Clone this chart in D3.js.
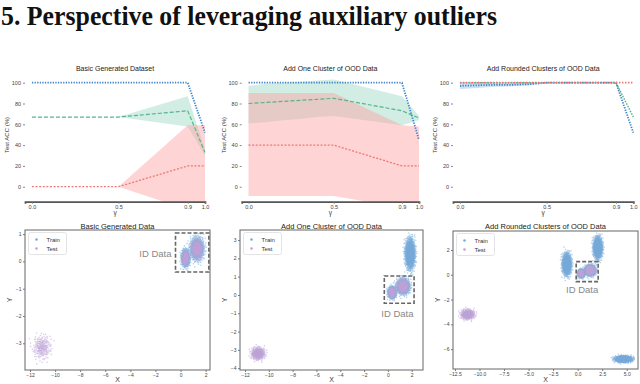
<!DOCTYPE html>
<html>
<head>
    <script src="https://d3js.org/d3.v7.min.js"></script>
    <style>
        body { margin: 0; background: #fff; }
        svg { display: block; font-family: "Liberation Sans", Arial, sans-serif; }
    </style>
</head>
<body>
    <div id="chart"></div>
    <script>
        // ---- top row: accuracy vs gamma ----
        const gammas = [0, 0.1, 0.2, 0.3, 0.4, 0.5, 0.9, 1.0];
        const gammaTicks = [0, 0.5, 0.9, 1.0];
        const accTicks = [0, 20, 40, 60, 80, 100];
        const topTitles = ["Basic Generated Dataset", "Add One Cluster of OOD Data", "Add Rounded Clusters of OOD Data"];

        const basicBlue = [100, 100, 100, 100, 100, 100, 100, 52];
        const basicGreen = [67, 67, 67, 67, 67, 67, 73, 33];
        const basicGreenHi = [67, 67, 67, 67, 67, 67, 87, 36];
        const basicGreenLo = [67, 67, 67, 67, 67, 67, 58, 30];
        const basicRed = [0, 0, 0, 0, 0, 0, 20, 20];
        const basicRedHi = [0, 0, 0, 0, 0, 0, 59, 59];
        const basicRedLo = [0, 0, 0, 0, 0, 0, -22, -22];

        const oneBlue = [100, 100, 100, 100, 100, 100, 100, 45];
        const oneGreen = [80, 81, 82, 83, 84, 85, 73, 66];
        const oneGreenHi = [97, 99, 100, 101, 102, 103, 87, 68];
        const oneGreenLo = [61, 62, 64, 65, 67, 68, 59, 64];
        const oneRed = [40, 40, 40, 40, 40, 40, 20, 20];
        const oneRedHi = [90, 90, 90, 90, 90, 90, 59, 58];
        const oneRedLo = [-9, -9, -9, -9, -9, -9, -20, -20];

        const roundBlue = [97, 97.5, 98, 98, 98.5, 100, 100, 52];
        const roundBlueHi = [100.5, 100.5, 100.5, 100.5, 100.5, 100, 100, 52];
        const roundBlueLo = [94, 95, 96, 96.5, 97.5, 100, 100, 52];
        const roundGreen = [100, 100, 100, 100, 100, 100, 100, 67];
        const roundRed = [100, 100, 100, 100, 100, 100, 100, 100];

        // ---- bottom row: 2D data clusters ----
        const bottomTitles = ["Basic Generated Data", "Add One Cluster of OOD Data", "Add Rounded Clusters of OOD Data"];
        const legendLabels = ["Train", "Test"];

        const basicClusters = [
            { set: "test", cx: -11.05, cy: -3.15, sx: 0.36, sy: 0.22, n: 220 },
            { set: "train", cx: 0.4, cy: 0.12, sx: 0.16, sy: 0.15, n: 600 },
            { set: "train", cx: 1.32, cy: 0.46, sx: 0.26, sy: 0.2, n: 900 },
            { set: "test", cx: 0.4, cy: 0.12, sx: 0.12, sy: 0.11, n: 350 },
            { set: "test", cx: 1.32, cy: 0.46, sx: 0.2, sy: 0.15, n: 500 }
        ];
        const oneClusters = [
            { set: "train", cx: 1.87, cy: 2.25, sx: 0.19, sy: 0.38, n: 1500 },
            { set: "train", cx: 0.35, cy: 0.13, sx: 0.16, sy: 0.15, n: 600 },
            { set: "train", cx: 1.28, cy: 0.47, sx: 0.26, sy: 0.2, n: 900 },
            { set: "test", cx: -10.9, cy: -3.2, sx: 0.27, sy: 0.16, n: 450 },
            { set: "test", cx: 0.35, cy: 0.13, sx: 0.12, sy: 0.11, n: 350 },
            { set: "test", cx: 1.28, cy: 0.47, sx: 0.2, sy: 0.15, n: 500 }
        ];
        const roundClusters = [
            { set: "train", cx: -1.1, cy: 0.85, sx: 0.21, sy: 0.4, n: 1300 },
            { set: "train", cx: 2.06, cy: 2.18, sx: 0.21, sy: 0.4, n: 1300 },
            { set: "train", cx: 4.68, cy: -6.8, sx: 0.4, sy: 0.12, n: 1100 },
            { set: "train", cx: 0.36, cy: 0.1, sx: 0.16, sy: 0.15, n: 600 },
            { set: "train", cx: 1.28, cy: 0.35, sx: 0.26, sy: 0.2, n: 900 },
            { set: "test", cx: -11.2, cy: -3.2, sx: 0.33, sy: 0.19, n: 450 },
            { set: "test", cx: 0.36, cy: 0.1, sx: 0.12, sy: 0.11, n: 350 },
            { set: "test", cx: 1.28, cy: 0.35, sx: 0.2, sy: 0.15, n: 500 }
        ];

        const basicXTicks = [-12, -10, -8, -6, -4, -2, 0, 2];
        const basicYTicks = [1, 0, -1, -2, -3];
        const oneXTicks = [-12, -10, -8, -6, -4, -2, 0, 2];
        const oneYTicks = [3, 2, 1, 0, -1, -2, -3, -4];
        const roundXTicks = [-12.5, -10, -7.5, -5, -2.5, 0, 2.5, 5];
        const roundYTicks = [2, 0, -2, -4, -6];

        const width = 640, height = 384;
        const svg = d3.select("#chart").append("svg")
            .attr("width", width)
            .attr("height", height);

        svg.append("text")
            .attr("x", 1)
            .attr("y", 25)
            .attr("textLength", 496)
            .attr("lengthAdjust", "spacingAndGlyphs")
            .style("font-family", "'Liberation Serif', 'Times New Roman', serif")
            .style("font-weight", "bold")
            .style("font-size", "27px")
            .attr("fill", "#111")
            .text("5. Perspective of leveraging auxiliary outliers");

        const colors = {
            blue: "#3d84c6", green: "#55b58c", red: "#ee7676",
            blueFill: "#9cc2e6", greenFill: "#66c2a5", redFill: "#ff9f9f",
            train: "#78acda", test: "#bea4d8"
        };

        // ---------- top row ----------
        const topPanels = [
            { x0: 25, x1: 205, title: topTitles[0],
              bands: [[basicGreenLo, basicGreenHi, "greenFill", 0.3], [basicRedLo, basicRedHi, "redFill", 0.45]],
              lines: [[basicRed, "red", "2,1.6", 1.3], [basicGreen, "green", "4,2", 1.2], [basicBlue, "blue", "1.3,1.3", 1.8]] },
            { x0: 241.7, x1: 419, title: topTitles[1],
              bands: [[oneGreenLo, oneGreenHi, "greenFill", 0.3], [oneRedLo, oneRedHi, "redFill", 0.45]],
              lines: [[oneRed, "red", "2,1.6", 1.3], [oneGreen, "green", "4,2", 1.2], [oneBlue, "blue", "1.3,1.3", 1.8]] },
            { x0: 453, x1: 633.3, title: topTitles[2],
              bands: [[roundBlueLo, roundBlueHi, "blueFill", 0.5]],
              lines: [[roundGreen, "green", "1.5,1.3", 1.5], [roundBlue, "blue", "1.3,1.3", 1.8], [roundRed, "red", "1.5,1.5", 1.8]] }
        ];

        const yTop = d3.scaleLinear().domain([-14.4, 105]).range([201.7, 77.5]);

        topPanels.forEach((p, pi) => {
            const x = d3.scaleLinear().domain([-0.04, 1.0]).range([p.x0, p.x1]);
            const g = svg.append("g");
            const clipId = "clipTop" + pi;
            g.append("clipPath").attr("id", clipId)
                .append("rect")
                .attr("x", p.x0).attr("y", yTop.range()[1] - 3)
                .attr("width", p.x1 - p.x0 + 2)
                .attr("height", yTop.range()[0] - yTop.range()[1] + 3);

            const plot = g.append("g").attr("clip-path", `url(#${clipId})`);

            p.bands.forEach(([lo, hi, c, op]) => {
                const area = d3.area()
                    .x((d, i) => x(gammas[i]))
                    .y0((d, i) => yTop(lo[i]))
                    .y1((d, i) => yTop(hi[i]));
                plot.append("path")
                    .datum(lo)
                    .attr("d", area)
                    .attr("fill", colors[c])
                    .attr("fill-opacity", op);
            });

            p.lines.forEach(([vals, c, dash, w]) => {
                const line = d3.line()
                    .x((d, i) => x(gammas[i]))
                    .y(d => yTop(d));
                plot.append("path")
                    .datum(vals)
                    .attr("d", line)
                    .attr("fill", "none")
                    .attr("stroke", colors[c])
                    .attr("stroke-width", w)
                    .attr("stroke-dasharray", dash);
            });

            // axes
            const xAxis = g.append("g")
                .attr("transform", `translate(0,${yTop.range()[0]})`)
                .call(d3.axisBottom(x).tickValues(gammaTicks).tickFormat(d3.format(".1f")).tickSize(2).tickPadding(1.5));
            xAxis.select(".domain").attr("stroke", "#555").attr("stroke-width", 1.8);
            xAxis.selectAll("line").attr("stroke", "#777");
            xAxis.selectAll("text").style("font-size", "5.5px").attr("fill", "#444");

            const yAxis = g.append("g")
                .attr("transform", `translate(${p.x0},0)`)
                .call(d3.axisLeft(yTop).tickValues(accTicks).tickSize(2).tickPadding(2));
            yAxis.select(".domain").remove();
            yAxis.selectAll("line").attr("stroke", "#888");
            yAxis.selectAll("text").style("font-size", "5.5px").attr("fill", "#444");

            g.append("text")
                .attr("x", (p.x0 + p.x1) / 2)
                .attr("y", 70.5)
                .attr("text-anchor", "middle")
                .style("font-size", "7px")
                .attr("fill", "#222")
                .text(p.title);

            g.append("text")
                .attr("x", (p.x0 + p.x1) / 2)
                .attr("y", 215)
                .attr("text-anchor", "middle")
                .style("font-size", "6.5px")
                .attr("fill", "#333")
                .text("γ");

            g.append("text")
                .attr("transform", `translate(${p.x0 - 16},135) rotate(-90)`)
                .attr("text-anchor", "middle")
                .style("font-size", "6px")
                .attr("fill", "#333")
                .text("Test ACC (%)");
        });

        // ---------- bottom row ----------
        // low-discrepancy (Halton) layout of each cluster's points around its centre
        function halton(i, b) {
            let f = 1, r = 0;
            while (i > 0) { f /= b; r += f * (i % b); i = Math.floor(i / b); }
            return r;
        }
        function cloud(c) {
            return d3.range(c.n).map(i => {
                const u = halton(i + 1, 2), v = halton(i + 1, 3);
                const r = Math.sqrt(-2 * Math.log(1 - u));
                return [c.cx + c.sx * r * Math.cos(2 * Math.PI * v), c.cy + c.sy * r * Math.sin(2 * Math.PI * v)];
            });
        }

        const bottomPanels = [
            { x0: 25, x1: 210, y0: 370, y1: 230, xd: [-12.4, 2.35], yd: [-3.98, 1.15],
              xt: basicXTicks, yt: basicYTicks, fmt: d3.format("d"), clusters: basicClusters,
              box: [-0.4, 2.26, -0.39, 1.04], label: [-2.0, 0.3], title: bottomTitles[0] },
            { x0: 240, x1: 423, y0: 370, y1: 230, xd: [-12.42, 2.95], yd: [-4.1, 3.55],
              xt: oneXTicks, yt: oneYTicks, fmt: d3.format("d"), clusters: oneClusters,
              box: [-0.3, 2.2, -0.45, 1.04], label: [0.8, -1.04], title: bottomTitles[1] },
            { x0: 453, x1: 638, y0: 369, y1: 231, xd: [-12.7, 6.15], yd: [-7.6, 3.53],
              xt: roundXTicks, yt: roundYTicks, fmt: d3.format(".1f"), clusters: roundClusters,
              box: [-0.15, 2.09, -0.55, 1.06], label: [0.46, -1.2], title: bottomTitles[2] }
        ];

        bottomPanels.forEach((p, pi) => {
            const x = d3.scaleLinear().domain(p.xd).range([p.x0, p.x1]);
            const y = d3.scaleLinear().domain(p.yd).range([p.y0, p.y1]);
            const g = svg.append("g");
            const clipId = "clipBot" + pi;
            g.append("clipPath").attr("id", clipId)
                .append("rect")
                .attr("x", p.x0).attr("y", p.y1)
                .attr("width", p.x1 - p.x0).attr("height", p.y0 - p.y1);

            const plot = g.append("g").attr("clip-path", `url(#${clipId})`);
            ["train", "test"].forEach(set => {
                p.clusters.filter(c => c.set === set).forEach(c => {
                    plot.append("g")
                        .selectAll("circle")
                        .data(cloud(c))
                        .join("circle")
                        .attr("cx", d => x(d[0]))
                        .attr("cy", d => y(d[1]))
                        .attr("r", 0.8)
                        .attr("fill", colors[set])
                        .attr("fill-opacity", 0.55);
                });
            });

            // ID data box
            g.append("rect")
                .attr("x", x(p.box[0]))
                .attr("y", y(p.box[3]))
                .attr("width", x(p.box[1]) - x(p.box[0]))
                .attr("height", y(p.box[2]) - y(p.box[3]))
                .attr("fill", "none")
                .attr("stroke", "#666")
                .attr("stroke-width", 1.6)
                .attr("stroke-dasharray", "4,2");
            g.append("text")
                .attr("x", x(p.label[0]))
                .attr("y", y(p.label[1]))
                .attr("dy", "0.35em")
                .attr("text-anchor", "middle")
                .style("font-size", "9.5px")
                .attr("fill", "#888")
                .text("ID Data");

            // frame
            g.append("rect")
                .attr("x", p.x0).attr("y", p.y1)
                .attr("width", p.x1 - p.x0).attr("height", p.y0 - p.y1)
                .attr("fill", "none")
                .attr("stroke", "#666")
                .attr("stroke-width", 1);

            const xAxis = g.append("g")
                .attr("transform", `translate(0,${p.y0})`)
                .call(d3.axisBottom(x).tickValues(p.xt).tickFormat(p.fmt).tickSize(2).tickPadding(1.5));
            xAxis.select(".domain").remove();
            xAxis.selectAll("line").attr("stroke", "#777");
            xAxis.selectAll("text").style("font-size", "5px").attr("fill", "#444");

            const yAxis = g.append("g")
                .attr("transform", `translate(${p.x0},0)`)
                .call(d3.axisLeft(y).tickValues(p.yt).tickFormat(d3.format("d")).tickSize(2).tickPadding(1.5));
            yAxis.select(".domain").remove();
            yAxis.selectAll("line").attr("stroke", "#777");
            yAxis.selectAll("text").style("font-size", "5px").attr("fill", "#444");

            g.append("text")
                .attr("x", (p.x0 + p.x1) / 2)
                .attr("y", 228.5)
                .attr("text-anchor", "middle")
                .style("font-size", "7.5px")
                .attr("fill", "#222")
                .text(p.title);

            g.append("text")
                .attr("x", (p.x0 + p.x1) / 2)
                .attr("y", 382)
                .attr("text-anchor", "middle")
                .style("font-size", "7px")
                .attr("fill", "#333")
                .text("X");

            g.append("text")
                .attr("transform", `translate(${p.x0 - 13},${(p.y0 + p.y1) / 2}) rotate(-90)`)
                .attr("text-anchor", "middle")
                .style("font-size", "7px")
                .attr("fill", "#333")
                .text("Y");

            // legend
            const lg = g.append("g").attr("transform", `translate(${p.x0 + 3.5},${p.y1 + 2.5})`);
            lg.append("rect")
                .attr("width", 38).attr("height", 22).attr("rx", 2)
                .attr("fill", "#fff").attr("fill-opacity", 0.85)
                .attr("stroke", "#ddd").attr("stroke-width", 0.8);
            legendLabels.forEach((lab, i) => {
                lg.append("circle")
                    .attr("cx", 8).attr("cy", 7 + i * 9).attr("r", 1.3)
                    .attr("fill", i === 0 ? colors.train : colors.test);
                lg.append("text")
                    .attr("x", 18).attr("y", 7 + i * 9).attr("dy", "0.35em")
                    .style("font-size", "6px").attr("fill", "#333")
                    .text(lab);
            });
        });
    </script>
</body>
</html>
